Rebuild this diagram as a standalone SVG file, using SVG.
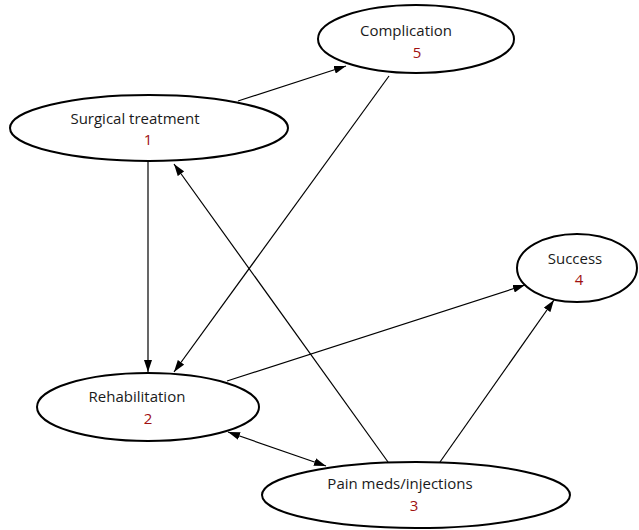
<svg xmlns="http://www.w3.org/2000/svg" width="639" height="530" viewBox="0 0 639 530">
<style>
.node ellipse{fill:#fff;stroke:#000;stroke-width:2}
.lbl{font-family:"Open Sans","Noto Sans",sans-serif;font-size:15px;fill:#1a1a1a;text-anchor:middle}
.num{font-family:"Open Sans","Noto Sans",sans-serif;font-size:15px;fill:#a01010;text-anchor:middle}
.edges line{stroke:#000;stroke-width:1.2;fill:none}
</style>
<defs>
<marker id="ah" viewBox="0 0 12 8" refX="12" refY="4" markerWidth="12" markerHeight="8" markerUnits="userSpaceOnUse" orient="auto-start-reverse">
<path d="M0,0 L12,4 L0,8 Z" fill="#000"/>
</marker>
</defs>
<rect width="639" height="530" fill="#fff"/>
<g class="edges">
<line x1="238" y1="101" x2="346" y2="66" marker-end="url(#ah)"/>
<line x1="389" y1="76" x2="174" y2="372" marker-end="url(#ah)"/>
<line x1="148" y1="162" x2="148" y2="372" marker-end="url(#ah)"/>
<line x1="388" y1="462" x2="174" y2="164" marker-end="url(#ah)"/>
<line x1="227" y1="381" x2="525" y2="285" marker-end="url(#ah)"/>
<line x1="440" y1="462" x2="554" y2="300" marker-end="url(#ah)"/>
<line x1="228" y1="432" x2="326" y2="466" marker-start="url(#ah)" marker-end="url(#ah)"/>
</g>
<g id="n1" class="node">
<ellipse cx="149" cy="128" rx="139" ry="33"/>
<text class="lbl" x="135" y="124">Surgical treatment</text>
<text class="num" x="148" y="145">1</text>
</g>
<g id="n5" class="node">
<ellipse cx="416" cy="39" rx="98" ry="34"/>
<text class="lbl" x="406" y="36">Complication</text>
<text class="num" x="417" y="58">5</text>
</g>
<g id="n4" class="node">
<ellipse cx="577" cy="268" rx="60" ry="34"/>
<text class="lbl" x="575" y="264">Success</text>
<text class="num" x="579" y="285">4</text>
</g>
<g id="n2" class="node">
<ellipse cx="148" cy="407" rx="111" ry="34"/>
<text class="lbl" x="137" y="402">Rehabilitation</text>
<text class="num" x="148" y="424">2</text>
</g>
<g id="n3" class="node">
<ellipse cx="416" cy="495" rx="154" ry="33"/>
<text class="lbl" x="400" y="489">Pain meds/injections</text>
<text class="num" x="414" y="511">3</text>
</g>
</svg>
